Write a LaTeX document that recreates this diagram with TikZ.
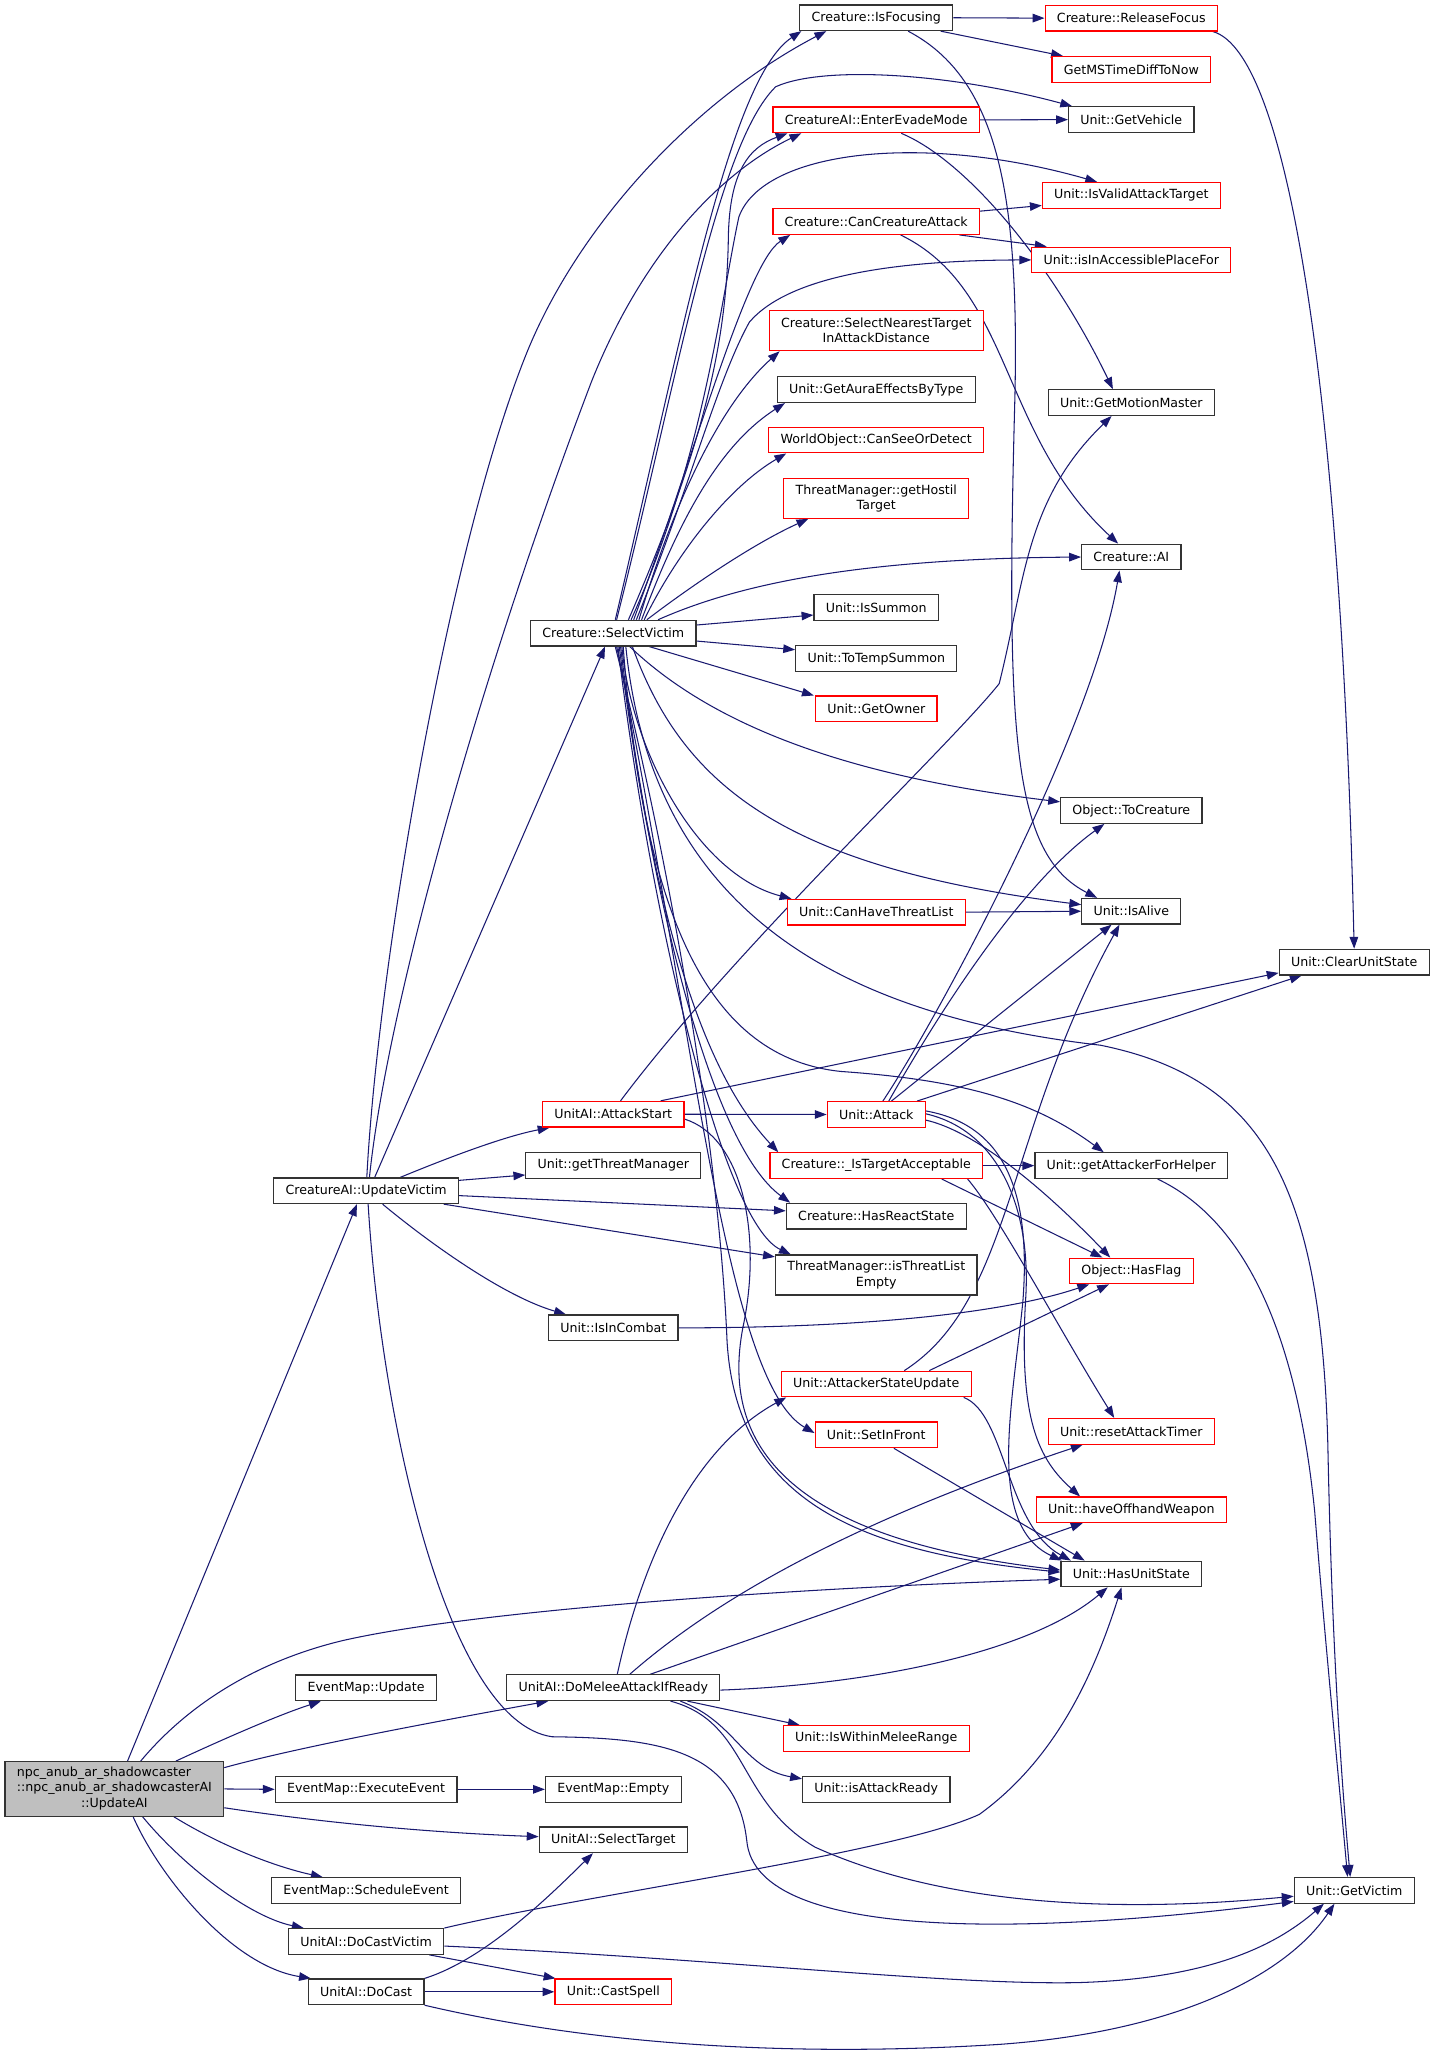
\documentclass[tikz,border=0pt]{standalone}
\usepackage{fontspec}
\setmainfont{DejaVu Sans}
\usetikzlibrary{arrows.meta}
\definecolor{edgecol}{HTML}{191970}
\definecolor{boxred}{HTML}{FF0000}
\definecolor{boxgray}{HTML}{333333}
\definecolor{npcgray}{HTML}{BFBFBF}
\pgfdeclarelayer{bg}
\pgfdeclarelayer{edges}
\pgfsetlayers{bg,edges,main}
\tikzset{
  fbox/.style={draw=boxgray, line width=0.9pt, fill=white, inner xsep=9pt, inner ysep=0pt,
    minimum height=19.5pt, font=\fontsize{9.6pt}{11.5pt}\selectfont, align=center},
  rbox/.style={fbox, draw=boxred},
  conn/.style={draw=edgecol, line width=0.8pt, -{Triangle[length=9pt,width=6.5pt]}},
}
\begin{document}
\begin{tikzpicture}[x=1pt,y=-1pt]
\begin{pgfonlayer}{bg}
\fill[white] (0,0) rectangle (1090,1564.6);
\end{pgfonlayer}
\useasboundingbox (0,0) rectangle (1090,1564.6);
% nodes
\node[fbox] (isfoc) at (666.5,13.5) {Creature::IsFocusing};
\node[rbox] (relfoc) at (860.5,13.8) {Creature::ReleaseFocus};
\node[rbox] (getms) at (860.5,52.8) {GetMSTimeDiffToNow};
\node[fbox] (getveh) at (860.5,91) {Unit::GetVehicle};
\node[rbox] (evade) at (666.5,91.2) {CreatureAI::EnterEvadeMode};
\node[rbox] (isvalid) at (860.5,148.6) {Unit::IsValidAttackTarget};
\node[rbox] (cancreat) at (666.5,168.5) {Creature::CanCreatureAttack};
\node[rbox] (isinacc) at (860.5,197.7) {Unit::isInAccessiblePlaceFor};
\node[rbox, minimum height=30.5pt] (selnear) at (666.5,251.5) {Creature::SelectNearestTarget\\InAttackDistance};
\node[fbox] (getaura) at (666.5,296.4) {Unit::GetAuraEffectsByType};
\node[fbox] (getmm) at (860.5,306.2) {Unit::GetMotionMaster};
\node[rbox] (canseeor) at (666.5,334.7) {WorldObject::CanSeeOrDetect};
\node[rbox, minimum height=30pt] (gethostil) at (666.5,379.2) {ThreatManager::getHostil\\Target};
\node[fbox] (crai) at (860.5,423.7) {Creature::AI};
\node[fbox] (issummon) at (666.5,462.2) {Unit::IsSummon};
\node[fbox] (selvic) at (466.5,481.6) {Creature::SelectVictim};
\node[fbox] (totemp) at (666.5,500.9) {Unit::ToTempSummon};
\node[rbox] (getowner) at (666.5,539.2) {Unit::GetOwner};
\node[fbox] (tocreat) at (860.5,616.5) {Object::ToCreature};
\node[rbox] (canhave) at (666.5,693.8) {Unit::CanHaveThreatList};
\node[fbox] (isalive) at (860.5,693.1) {Unit::IsAlive};
\node[fbox] (clearus) at (1030,731.8) {Unit::ClearUnitState};
\node[rbox] (attackst) at (466.5,847.5) {UnitAI::AttackStart};
\node[rbox] (attack) at (666.5,847.7) {Unit::Attack};
\node[rbox] (istarget) at (666.5,886.6) {Creature::\_IsTargetAcceptable};
\node[fbox] (getattk) at (860.5,886.6) {Unit::getAttackerForHelper};
\node[fbox] (getthreat) at (466.5,886.5) {Unit::getThreatManager};
\node[fbox] (updvic) at (278.5,905.7) {CreatureAI::UpdateVictim};
\node[fbox] (hasreact) at (666.5,925) {Creature::HasReactState};
\node[fbox, minimum height=30.5pt] (isthreat) at (666.5,969.8) {ThreatManager::isThreatList\\Empty};
\node[rbox] (hasflag) at (860.5,966.7) {Object::HasFlag};
\node[fbox] (incombat) at (466.5,1010) {Unit::IsInCombat};
\node[rbox] (attkstate) at (666.5,1052.7) {Unit::AttackerStateUpdate};
\node[rbox] (resettimer) at (860.5,1088.7) {Unit::resetAttackTimer};
\node[rbox] (setinfront) at (666.5,1091.4) {Unit::SetInFront};
\node[rbox] (offhand) at (860.5,1148.4) {Unit::haveOffhandWeapon};
\node[fbox] (hasus) at (860.5,1197.2) {Unit::HasUnitState};
\node[fbox] (emupdate) at (278.5,1283.8) {EventMap::Update};
\node[fbox] (domelee) at (466.5,1283.7) {UnitAI::DoMeleeAttackIfReady};
\node[rbox] (within) at (666.5,1322.3) {Unit::IsWithinMeleeRange};
\node[fbox, fill=npcgray, minimum height=41.5pt] (npc) at (87,1360.7) {\begin{tabular}{@{}l@{}}npc\_anub\_ar\_shadowcaster\\::npc\_anub\_ar\_shadowcasterAI\\\multicolumn{1}{@{}c@{}}{::UpdateAI}\end{tabular}};
\node[fbox] (execev) at (278.5,1361) {EventMap::ExecuteEvent};
\node[fbox] (empty) at (466.5,1361) {EventMap::Empty};
\node[fbox] (isattkready) at (666.5,1361) {Unit::isAttackReady};
\node[fbox] (seltarget) at (466.5,1399.4) {UnitAI::SelectTarget};
\node[fbox] (schedule) at (278.5,1438) {EventMap::ScheduleEvent};
\node[fbox] (getvictim) at (1030,1437.8) {Unit::GetVictim};
\node[fbox] (docastvic) at (278.5,1476.7) {UnitAI::DoCastVictim};
\node[fbox] (docast) at (278.5,1515) {UnitAI::DoCast};
\node[rbox] (castspell) at (466.5,1515) {Unit::CastSpell};
% edges
\begin{pgfonlayer}{edges}
% npc
\draw[conn] ([xshift=10pt]npc.north) -- ([xshift=-7pt]updvic.south);
\draw[conn] ([xshift=20pt]npc.north) .. controls (140,1300) and (190,1265) .. (260,1248) .. controls (360,1225) and (600,1208) .. ([yshift=-4pt]hasus.west);
\draw[conn] ([xshift=46.8pt]npc.north) .. controls (165,1325) and (210,1305) .. ([xshift=-34.5pt]emupdate.south);
\draw[conn] ([yshift=-5pt]npc.north east) .. controls (230,1328) and (340,1308) .. ([xshift=-49.5pt]domelee.south);
\draw[conn] (npc.east) -- (execev.west);
\draw[conn] ([yshift=-14.3pt]npc.east) .. controls (250,1387) and (330,1394) .. ([yshift=2.4pt]seltarget.west);
\draw[conn] ([xshift=45.3pt]npc.south) .. controls (170,1405) and (210,1420) .. ([xshift=-33pt]schedule.north);
\draw[conn] ([xshift=21.5pt]npc.south) .. controls (140,1420) and (190,1458) .. ([xshift=-47.5pt]docastvic.north);
\draw[conn] ([xshift=14.3pt]npc.south) .. controls (120,1425) and (175,1495) .. ([xshift=-42pt]docast.north);
% updvic
\draw[conn] ([xshift=0.5pt]updvic.north) .. controls (287,740) and (340,420) .. (400,270) .. controls (440,170) and (530,75) .. ([xshift=-38pt]isfoc.south);
\draw[conn] ([xshift=2.5pt]updvic.north) .. controls (295,760) and (370,500) .. (450,290) .. controls (490,190) and (550,130) .. ([xshift=-57pt]evade.south);
\draw[conn] ([xshift=6.5pt]updvic.north) -- ([xshift=-6.3pt]selvic.south);
\draw[conn] ([xshift=26pt]updvic.north) .. controls (330,885) and (380,865) .. ([xshift=-48.5pt]attackst.south);
\draw[conn] ([yshift=7.9pt]updvic.east) -- ([yshift=-7.2pt]getthreat.west);
\draw[conn] ([yshift=-3.7pt]updvic.east) -- ([yshift=4pt]hasreact.west);
\draw[conn] ([xshift=59pt]updvic.south) -- ([yshift=13.8pt]isthreat.west);
\draw[conn] ([xshift=12.5pt]updvic.south) .. controls (320,940) and (380,985) .. ([xshift=-36pt]incombat.north);
\draw[conn] ([xshift=1.5pt]updvic.south) .. controls (290,1080) and (340,1310) .. (420,1321) .. controls (500,1322) and (560,1330) .. (568,1400) .. controls (575,1480) and (800,1470) .. ([yshift=-8.5pt]getvictim.west);
% selvic
\draw[conn] ([xshift=1.5pt]selvic.north) .. controls (520,250) and (555,60) .. ([xshift=-57pt]isfoc.south);
\draw[conn] ([xshift=2.5pt]selvic.north) .. controls (515,290) and (545,110) .. (590,66) .. controls (625,50) and (720,55) .. ([xshift=-45pt]getveh.north);
\draw[conn] ([xshift=11.5pt]selvic.north) .. controls (535,340) and (553,260) .. (554,180) .. controls (555,130) and (570,112) .. ([xshift=-67.5pt]evade.south);
\draw[conn] ([xshift=13.5pt]selvic.north) .. controls (535,350) and (548,230) .. (562,165) .. controls (580,115) and (700,100) .. ([xshift=-26pt]isvalid.north);
\draw[conn] ([xshift=15.5pt]selvic.north) .. controls (530,340) and (568,200) .. ([xshift=-65.5pt]cancreat.south);
\draw[conn] ([xshift=17.5pt]selvic.north) .. controls (525,370) and (545,290) .. (570,245) .. controls (600,210) and (680,198) .. (isinacc.west);
\draw[conn] ([xshift=19.5pt]selvic.north) .. controls (510,390) and (545,310) .. ([xshift=-73.5pt]selnear.south);
\draw[conn] ([xshift=21.5pt]selvic.north) .. controls (515,400) and (545,340) .. ([xshift=-69.5pt]getaura.south);
\draw[conn] ([xshift=23.5pt]selvic.north) .. controls (515,420) and (555,370) .. ([xshift=-68.5pt]canseeor.south);
\draw[conn] ([xshift=25.5pt]selvic.north) .. controls (520,450) and (570,415) .. ([xshift=-51.7pt]gethostil.south);
\draw[conn] ([xshift=34pt]selvic.north) .. controls (560,445) and (650,425) .. (crai.west);
\draw[conn] ([yshift=6.2pt]selvic.east) -- ([yshift=-5.6pt]issummon.west);
\draw[conn] ([yshift=-6pt]selvic.east) -- ([yshift=6.7pt]totemp.west);
\draw[conn] ([xshift=27.3pt]selvic.south) -- ([xshift=-47.5pt]getowner.north);
\draw[conn] ([xshift=12.5pt]selvic.south) .. controls (540,550) and (640,590) .. ([yshift=6.6pt]tocreat.west);
\draw[conn] ([xshift=6.5pt]selvic.south) .. controls (480,570) and (530,665) .. ([xshift=-64.5pt]canhave.north);
\draw[conn] ([xshift=14.5pt]selvic.south) .. controls (520,600) and (600,660) .. ([yshift=5pt]isalive.west);
\draw[conn] ([xshift=9.5pt]selvic.south) .. controls (495,680) and (620,770) .. (837,795) .. controls (960,820) and (1005,900) .. (1010,1100) .. controls (1013,1250) and (1020,1350) .. ([xshift=-3pt]getvictim.north);
\draw[conn] ([xshift=7.5pt]selvic.south) .. controls (490,700) and (540,805) .. (640,815) .. controls (740,822) and (790,840) .. ([xshift=-21pt]getattk.north);
\draw[conn] ([xshift=5.5pt]selvic.south) .. controls (490,640) and (520,800) .. ([xshift=-74.5pt]istarget.north);
\draw[conn] ([xshift=4.5pt]selvic.south) .. controls (495,680) and (540,870) .. ([xshift=-65.5pt]hasreact.north);
\draw[conn] ([xshift=3.5pt]selvic.south) .. controls (495,700) and (550,930) .. ([xshift=-65pt]isthreat.north);
\draw[conn] ([xshift=2.5pt]selvic.south) .. controls (525,760) and (550,1050) .. ([yshift=1.4pt]setinfront.west);
\draw[conn] ([xshift=1.5pt]selvic.south) .. controls (520,700) and (548,900) .. (553,1020) .. controls (560,1140) and (650,1180) .. ([yshift=1.4pt]hasus.west);
% isfoc
\draw[conn] (isfoc.east) -- (relfoc.west);
\draw[conn] ([xshift=49pt]isfoc.south) -- ([xshift=-52pt]getms.north);
\draw[conn] ([xshift=24.2pt]isfoc.south) .. controls (760,60) and (775,150) .. (772,300) .. controls (765,560) and (770,650) .. ([xshift=-26pt]isalive.north);
% relfoc
\draw[conn] ([xshift=62pt]relfoc.south) .. controls (980,40) and (1020,300) .. (clearus.north);
% evade
\draw[conn] (evade.east) -- (getveh.west);
\draw[conn] ([xshift=19pt]evade.south) .. controls (735,122) and (800,200) .. ([xshift=-14pt]getmm.north);
% cancreat
\draw[conn] ([yshift=7.9pt]cancreat.east) -- ([yshift=-7.7pt]isvalid.west);
\draw[conn] ([xshift=63.3pt]cancreat.south) -- ([xshift=-64.4pt]isinacc.north);
\draw[conn] ([xshift=18.5pt]cancreat.south) .. controls (770,220) and (760,330) .. ([xshift=-10pt]crai.north);
% canhave
\draw[conn] (canhave.east) -- (isalive.west);
% attackst
\draw[conn] ([xshift=5.5pt]attackst.north) .. controls (560,720) and (720,570) .. (760,520) .. controls (780,440) and (780,380) .. ([xshift=-15pt]getmm.south);
\draw[conn] ([xshift=36pt]attackst.north) -- ([yshift=-8.2pt]clearus.west);
\draw[conn] (attackst.east) -- (attack.west);
\draw[conn] ([yshift=-3.7pt]attackst.east) .. controls (565,865) and (580,940) .. (565,1010) .. controls (548,1100) and (600,1170) .. ([yshift=3pt]hasus.west);
% attack
\draw[conn] ([xshift=5pt]attack.north) .. controls (710,780) and (830,560) .. ([xshift=-9pt]crai.south);
\draw[conn] ([xshift=9.5pt]attack.north) .. controls (720,760) and (780,670) .. ([xshift=-20.5pt]tocreat.south);
\draw[conn] ([xshift=11.5pt]attack.north) -- ([xshift=-15pt]isalive.south);
\draw[conn] ([xshift=31pt]attack.north) -- ([xshift=-40pt]clearus.south);
\draw[conn] ([yshift=-4.3pt]attack.east) .. controls (740,860) and (790,900) .. ([xshift=-16pt]hasflag.north);
\draw[conn] ([yshift=2.7pt]attack.east) .. controls (760,855) and (785,900) .. (778,990) .. controls (770,1070) and (750,1160) .. ([xshift=-53pt]hasus.north);
\draw[conn] ([yshift=0.5pt]attack.east) .. controls (760,860) and (785,920) .. (780,990) .. controls (775,1080) and (790,1110) .. ([xshift=-39pt]offhand.north);
% istarget
\draw[conn] (istarget.east) -- (getattk.west);
\draw[conn] ([xshift=49.8pt]istarget.south) -- ([xshift=-22pt]hasflag.north);
\draw[conn] ([xshift=69.5pt]istarget.south) .. controls (760,925) and (805,1010) .. ([xshift=-13pt]resettimer.north);
% getattk
\draw[conn] ([xshift=20pt]getattk.south) .. controls (940,925) and (985,1000) .. (1000,1150) .. controls (1008,1250) and (1018,1350) .. ([xshift=-5pt]getvictim.north);
% incombat
\draw[conn] (incombat.east) .. controls (650,1010) and (760,1000) .. ([xshift=-32pt]hasflag.south);
% attkstate
\draw[conn] ([xshift=21.3pt]attkstate.north) .. controls (770,990) and (765,860) .. ([xshift=-9pt]isalive.south);
\draw[conn] ([xshift=40.3pt]attkstate.north) -- ([xshift=-17pt]hasflag.south);
\draw[conn] ([xshift=66.5pt]attkstate.south) .. controls (765,1075) and (765,1160) .. ([xshift=-46pt]hasus.north);
% setinfront
\draw[conn] ([xshift=13.4pt]setinfront.south) -- ([xshift=-35.5pt]hasus.north);
% execev
\draw[conn] (execev.east) -- (empty.west);
% domelee
\draw[conn] ([xshift=3pt]domelee.north) .. controls (490,1180) and (530,1100) .. ([xshift=-68.5pt]attkstate.south);
\draw[conn] ([xshift=12.5pt]domelee.north) .. controls (540,1220) and (640,1160) .. ([xshift=-37pt]resettimer.south);
\draw[conn] ([xshift=28pt]domelee.north) -- ([xshift=-37pt]offhand.south);
\draw[conn] ([yshift=-1.8pt]domelee.east) .. controls (650,1282) and (780,1260) .. ([xshift=-18pt]hasus.south);
\draw[conn] ([xshift=56.4pt]domelee.south) -- ([xshift=-58.2pt]within.north);
\draw[conn] ([xshift=51pt]domelee.south) .. controls (560,1310) and (565,1345) .. ([yshift=8pt]isattkready.west);
\draw[conn] ([xshift=43.5pt]domelee.south) .. controls (570,1310) and (560,1370) .. (620,1405) .. controls (720,1450) and (850,1455) .. ([yshift=-4.5pt]getvictim.west);
% docastvic
\draw[conn] (docastvic.north east) .. controls (450,1440) and (680,1410) .. (745,1380) .. controls (800,1340) and (830,1280) .. ([xshift=-7.5pt]hasus.south);
\draw[conn] ([xshift=48pt]docastvic.south) -- ([xshift=-44pt]castspell.north);
\draw[conn] ([yshift=-3.5pt]docastvic.east) .. controls (550,1490) and (720,1510) .. (820,1508) .. controls (920,1505) and (970,1480) .. ([xshift=-23pt]getvictim.south);
% docast
\draw[conn] (docast.north east) .. controls (370,1490) and (420,1440) .. ([xshift=-15.5pt]seltarget.south);
\draw[conn] (docast.east) -- (castspell.west);
\draw[conn] (docast.south east) .. controls (450,1555) and (600,1565) .. (760,1555) .. controls (900,1545) and (980,1500) .. ([xshift=-15pt]getvictim.south);
\end{pgfonlayer}
\end{tikzpicture}
\end{document}
